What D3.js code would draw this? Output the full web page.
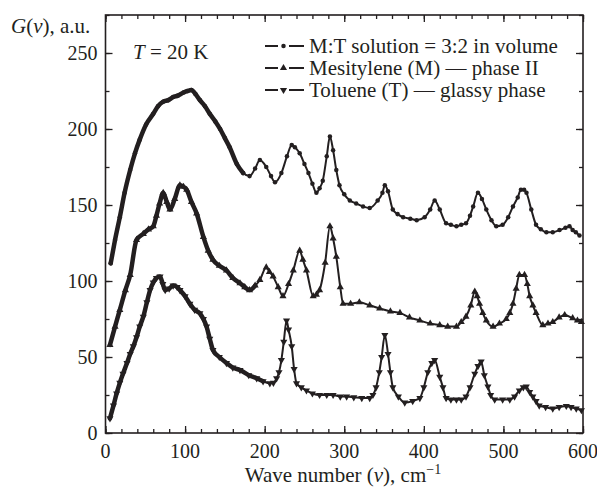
<!DOCTYPE html>
<html>
<head>
<meta charset="utf-8">
<script src="https://cdn.jsdelivr.net/npm/d3@7"></script>
<style>
  body { margin: 0; background: #fff; }
</style>
</head>
<body>
<div id="chart"></div>
<script>
// M:T solution = 3:2 (circles)
var mtNu = [6.5,12,18,24,31,37,43,51,60,66,72.5,79,85,91,98,103,108,113,118.6,125,131,138,144,150,156,165,173,181,188,194,202,208,213,221,228,234,238,244,250,255,260,265,269,273,278,282,286,290,294,300,307,315,323.6,332,342,348,351,355,361,367,374,383,391,401,408,413.6,420,428,434,441,447,453,458,462,468,473,478.5,485,491,499,506,512,518,522,526,529,535,541,547,554,562,570.5,578,583,587,591,595.6];
var mtG  = [111.6,127,142,158,173,184,193,203,210,215,218,219,221,222,224,225,225.6,223,219,215,210,205,200,194,188,177,171,169,174,179.6,175,169,165,171,182,189.5,188,184,177,171,164,158,161,166,182,195,186,173,163,157,153,151,149,148,153,158,163,159,147,144,142,141,140,142,147,153,147,138,137,136,137,138,143,149,158,154,147,140,136,137,142,149,155,160,160,158,147,137,134,132,132,133.5,135,136,133.5,132,130];

// Mesitylene (M), phase II (up triangles)
var mesNu = [5.6,12,18,25,31,39,47.5,54,60,64,68,72.5,77,81,87,93.5,98,102,108,114.5,123,129,135,143,152,160,169,175,181,188,194,202,206,210.6,217,223,230,236,244,248,252.5,261,265,269,276,282,286,290,295,298.5,308,319,332,344.5,358,370,382,395,408,420,430,441,447,453,459,464,467,470,474,478.5,487,495,503.6,508,512,516,520,526.5,530,533,537,541,549.5,556,562,570,577,587,593,598];
var mesG  = [58,70,81,94,104,127,131,134,136,143,151,158,152,147,154,163,162,160,152,144.5,129,120,114,110,107,102,98.5,96,94,97,100.7,109,106,103,96,90,98,107,120,114,107,90,91,94,112,136,128,116,96,85,85,86,84,82,80,79,76,74,72,71,70,70,73,76.5,84,93,90,85,79,74,70,72,75,79,85,95,104,104,98,90,84,79,71,72,73,76,77.6,75.5,74,73];

// Toluene (T), glassy phase (down triangles)
var tolNu = [5.6,10,14,18,22,27,31,35,39,43,47.5,52,56,60,64,68.5,72,75,80,85,90,93.5,100,106,112,118.6,123,127,131,135,143,152,160,169,180,190,198,206.5,211,215,218,221,224,227.5,230,234,237,240,246,252.5,260,269,278,286,295,303,312,322,332,336,340,344,347,351,355,358,361,368,376,386,395,400,405,410,413.6,420,424,428,434,441,447,453,458,464,468,472,476,480.5,484,489,499,508,514,520,525,528.7,533,537,541,545,553,562,570,579,585,591.5,598];
var tolG  = [9.6,18,26,33,39,46,52,57,63,70,76.5,86,94,99,102,103,98,94,95,97,96,94,90,85,81,78.7,75,70,62,54.6,50,46,43,41.4,38,36,34,32.7,33,36,40,48,60,74,68,57,42,32.7,30,28,26,25,25,25,24,24,23.5,23,23,25,30,40,50,64.5,52,40,30,24,20,21,23,30,40,46,48,37,30,23,22,22,22,24,30,39,44,47,38,30.5,25,22,22,22,24,28,30,30.5,27,24,21,18,17,16,17,17.8,17,16,15];

var xTicks = [0,100,200,300,400,500,600];
var yTicks = [0,50,100,150,200,250];
var legendLabels = ["M:T solution = 3:2 in volume", "Mesitylene (M) \u2014 phase II", "Toluene (T) \u2014 glassy phase"];

var W = 597, H = 490;
var m = {left: 105.5, right: 14, top: 15, bottom: 57};
var iw = W - m.left - m.right, ih = H - m.top - m.bottom;
var ink = "#231f20";
var serif = "'Liberation Serif', 'Times New Roman', serif";

var svg = d3.select("#chart").append("svg").attr("width", W).attr("height", H);
var g = svg.append("g").attr("transform", "translate(" + m.left + "," + m.top + ")");

var x = d3.scaleLinear().domain([0, 600]).range([0, iw]);
var y = d3.scaleLinear().domain([0, 275]).range([ih, 0]);

// ticks, inward on all four sides
function tickAxis(axisFn, scale, major, minor, tf) {
  var a = g.append("g").attr("transform", tf || null);
  a.call(axisFn(scale).tickValues(minor).tickSize(-4).tickFormat(""));
  a.append("g").call(axisFn(scale).tickValues(major).tickSize(-7).tickFormat(""));
  a.selectAll(".domain").remove();
  a.selectAll("line").attr("stroke", ink).attr("stroke-width", 1.3);
  return a;
}
var xMinor = d3.range(0, 601, 20), yMinor = d3.range(0, 276, 25);
tickAxis(d3.axisBottom, x, xTicks, xMinor, "translate(0," + ih + ")");
tickAxis(d3.axisTop, x, xTicks, xMinor);
tickAxis(d3.axisLeft, y, yTicks, yMinor);
tickAxis(d3.axisRight, y, yTicks, yMinor, "translate(" + iw + ",0)");

g.append("rect").attr("width", iw).attr("height", ih)
  .attr("fill", "none").attr("stroke", ink).attr("stroke-width", 1.6);

function txt(sel) {
  return sel.attr("font-family", serif).attr("fill", ink);
}

// tick labels
txt(g.selectAll(".xl").data(xTicks).enter().append("text"))
  .attr("x", function(d) { return x(d); }).attr("y", ih + 25)
  .attr("text-anchor", "middle").style("font-size", "20px")
  .text(function(d) { return d; });
txt(g.selectAll(".yl").data(yTicks).enter().append("text"))
  .attr("x", -8).attr("y", function(d) { return y(d) + 7; })
  .attr("text-anchor", "end").style("font-size", "20px")
  .text(function(d) { return d; });

// axis titles
var xt = txt(svg.append("text")).attr("x", 343).attr("y", 482).attr("text-anchor", "middle").style("font-size", "21px");
xt.append("tspan").text("Wave number (");
xt.append("tspan").style("font-style", "italic").text("\u03bd");
xt.append("tspan").text("), cm");
xt.append("tspan").attr("dy", -8).style("font-size", "14px").text("\u22121");

var yt = txt(svg.append("text")).attr("x", 11).attr("y", 33).style("font-size", "21px");
yt.append("tspan").style("font-style", "italic").text("G");
yt.append("tspan").text("(");
yt.append("tspan").style("font-style", "italic").text("\u03bd");
yt.append("tspan").text("), a.u.");

var tt = txt(svg.append("text")).attr("x", 133).attr("y", 59).style("font-size", "21px");
tt.append("tspan").style("font-style", "italic").text("T");
tt.append("tspan").text(" = 20 K");

// series
var series = [
  {nu: mtNu, gv: mtG, sym: d3.symbolCircle, size: 16, rot: 0, dense: 175},
  {nu: mesNu, gv: mesG, sym: d3.symbolTriangle, size: 22, rot: 0, dense: 190},
  {nu: tolNu, gv: tolG, sym: d3.symbolTriangle, size: 22, rot: 180, dense: 205}
];
var line = d3.line().curve(d3.curveMonotoneX)
  .x(function(d) { return x(d[0]); }).y(function(d) { return y(d[1]); });

series.forEach(function(s) {
  var pts = d3.zip(s.nu, s.gv);
  // heavier band at low wave numbers where the measured points are dense
  g.append("path").datum(pts.filter(function(d) { return d[0] <= s.dense; })).attr("d", line)
    .attr("fill", "none").attr("stroke", ink).attr("stroke-width", 4.5)
    .attr("stroke-linejoin", "round").attr("stroke-linecap", "round");
  g.append("path").datum(pts).attr("d", line)
    .attr("fill", "none").attr("stroke", ink).attr("stroke-width", 2).attr("stroke-linejoin", "round");
  g.selectAll(null).data(pts).enter().append("path")
    .attr("d", d3.symbol().type(s.sym).size(s.size))
    .attr("transform", function(d) { return "translate(" + x(d[0]) + "," + y(d[1]) + ") rotate(" + s.rot + ")"; })
    .attr("fill", ink);
});

// legend
var lg = svg.append("g");
series.forEach(function(s, i) {
  var cy = 46 + i * 22;
  lg.append("line").attr("x1", 265).attr("x2", 278).attr("y1", cy).attr("y2", cy).attr("stroke", ink).attr("stroke-width", 2);
  lg.append("line").attr("x1", 289).attr("x2", 304).attr("y1", cy).attr("y2", cy).attr("stroke", ink).attr("stroke-width", 2);
  lg.append("path").attr("d", d3.symbol().type(s.sym).size(s.size))
    .attr("transform", "translate(283.5," + cy + ") rotate(" + s.rot + ")").attr("fill", ink);
  txt(lg.append("text")).attr("x", 309).attr("y", cy + 7).style("font-size", "21px")
    .text(legendLabels[i]);
});
</script>
</body>
</html>
